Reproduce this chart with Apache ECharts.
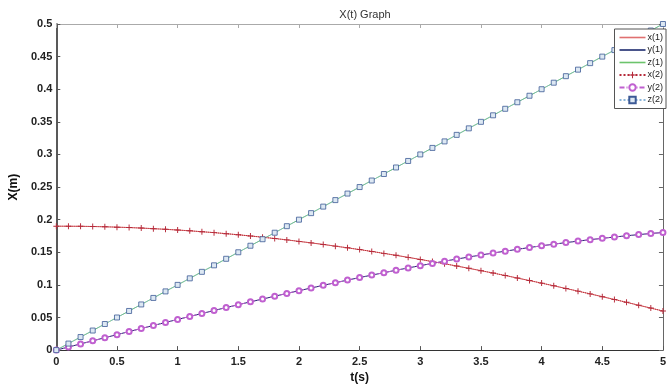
<!DOCTYPE html>
<html>
<head>
<meta charset="utf-8">
<script src="https://cdn.jsdelivr.net/npm/echarts@6/dist/echarts.min.js"></script>
<style>
  html, body { margin: 0; padding: 0; background: #fff; }
  #chart { width: 669px; height: 389px; }
</style>
</head>
<body>
<div id="chart"></div>
<script>
// 时间轴 t(s)，步长 0.1
const tValues = [0, 0.1, 0.2, 0.3, 0.4, 0.5, 0.6, 0.7, 0.8, 0.9, 1, 1.1, 1.2, 1.3, 1.4, 1.5, 1.6, 1.7, 1.8, 1.9,
  2, 2.1, 2.2, 2.3, 2.4, 2.5, 2.6, 2.7, 2.8, 2.9, 3, 3.1, 3.2, 3.3, 3.4, 3.5, 3.6, 3.7, 3.8, 3.9,
  4, 4.1, 4.2, 4.3, 4.4, 4.5, 4.6, 4.7, 4.8, 4.9, 5];

const xValues = [0.190, 0.1899, 0.1898, 0.1895, 0.1891, 0.1885, 0.1879, 0.1871, 0.1862, 0.1852,
  0.1841, 0.1829, 0.1815, 0.1801, 0.1785, 0.1768, 0.1750, 0.1731, 0.1711, 0.1690,
  0.1667, 0.1644, 0.1620, 0.1594, 0.1568, 0.1541, 0.1513, 0.1483, 0.1453, 0.1422,
  0.1390, 0.1357, 0.1324, 0.1289, 0.1254, 0.1218, 0.1181, 0.1144, 0.1105, 0.1066,
  0.1027, 0.0986, 0.0945, 0.0904, 0.0862, 0.0819, 0.0776, 0.0733, 0.0688, 0.0644, 0.0599];

const yValues = [0, 0.0047, 0.0095, 0.0142, 0.0190, 0.0237, 0.0284, 0.0331, 0.0377, 0.0424,
  0.0470, 0.0516, 0.0561, 0.0607, 0.0652, 0.0696, 0.0740, 0.0783, 0.0826, 0.0869,
  0.0911, 0.0952, 0.0993, 0.1033, 0.1073, 0.1112, 0.1150, 0.1187, 0.1224, 0.1260,
  0.1295, 0.1329, 0.1363, 0.1396, 0.1427, 0.1458, 0.1488, 0.1517, 0.1545, 0.1573,
  0.1599, 0.1624, 0.1648, 0.1671, 0.1693, 0.1714, 0.1734, 0.1753, 0.1771, 0.1788, 0.1803];

const zValues = [0, 0.01, 0.02, 0.03, 0.04, 0.05, 0.06, 0.07, 0.08, 0.09,
  0.10, 0.11, 0.12, 0.13, 0.14, 0.15, 0.16, 0.17, 0.18, 0.19,
  0.20, 0.21, 0.22, 0.23, 0.24, 0.25, 0.26, 0.27, 0.28, 0.29,
  0.30, 0.31, 0.32, 0.33, 0.34, 0.35, 0.36, 0.37, 0.38, 0.39,
  0.40, 0.41, 0.42, 0.43, 0.44, 0.45, 0.46, 0.47, 0.48, 0.49, 0.50];

const seriesNames = ['x(1)', 'y(1)', 'z(1)', 'x(2)', 'y(2)', 'z(2)'];

function pairs(values) {
  return tValues.map(function (t, i) { return [t, values[i]]; });
}

const plusSymbol = 'path://M-1,-0.16H1V0.16H-1Z M-0.16,-1H0.16V1H-0.16Z';
// 纯线条图例图标
const lineIcon = 'path://M0,0H26V1.6H0Z';

const chart = echarts.init(document.getElementById('chart'), null, { renderer: 'canvas' });

const tickFont = { color: '#222', fontSize: 11, fontWeight: 'bold', fontFamily: 'Liberation Sans' };

chart.setOption({
  animation: false,
  title: {
    text: 'X(t) Graph',
    left: 360,
    textAlign: 'center',
    top: 4,
    textStyle: { fontSize: 11, fontWeight: 'normal', color: '#333', fontFamily: 'Liberation Sans' }
  },
  legend: {
    data: seriesNames.map(function (n, i) {
      return i < 3 ? { name: n, icon: lineIcon } : { name: n };
    }),
    orient: 'vertical',
    right: 3,
    top: 29,
    padding: [4, 3, 4, 4],
    itemGap: 3.5,
    itemWidth: 26,
    itemHeight: 8,
    backgroundColor: '#fff',
    borderColor: '#555',
    borderWidth: 1,
    borderRadius: 0,
    textStyle: { fontSize: 9, color: '#222', fontFamily: 'Liberation Sans', padding: [0, 0, 0, -3] }
  },
  grid: { left: 53, right: 1, top: 24, bottom: 36 },
  xAxis: [{
    type: 'value',
    min: 0,
    max: 5,
    interval: 0.5,
    name: 't(s)',
    nameLocation: 'middle',
    nameGap: 19,
    nameTextStyle: { color: '#111', fontSize: 12, fontWeight: 'bold', fontFamily: 'Liberation Sans' },
    axisLine: { onZero: false, lineStyle: { color: '#333', width: 1 } },
    axisTick: { inside: true, length: 4, lineStyle: { color: '#555' } },
    axisLabel: Object.assign({ margin: 6 }, tickFont),
    splitLine: { show: false }
  }, {
    type: 'value',
    position: 'top',
    min: 0,
    max: 5,
    interval: 0.5,
    axisLine: { onZero: false, lineStyle: { color: '#aaa' } },
    axisTick: { inside: true, length: 4, lineStyle: { color: '#aaa' } },
    axisLabel: { show: false },
    splitLine: { show: false }
  }],
  yAxis: [{
    type: 'value',
    min: 0,
    max: 0.5,
    interval: 0.05,
    name: 'X(m)',
    nameLocation: 'middle',
    nameGap: 30,
    nameTextStyle: { color: '#111', fontSize: 12, fontWeight: 'bold', fontFamily: 'Liberation Sans' },
    axisLine: { onZero: false, lineStyle: { color: '#222', width: 1.5 } },
    axisTick: { inside: true, length: 4, lineStyle: { color: '#555' } },
    axisLabel: Object.assign({ margin: 4 }, tickFont),
    splitLine: { show: false }
  }, {
    type: 'value',
    position: 'right',
    min: 0,
    max: 0.5,
    interval: 0.05,
    axisLine: { onZero: false, lineStyle: { color: '#666' } },
    axisTick: { inside: true, length: 4, lineStyle: { color: '#666' } },
    axisLabel: { show: false },
    splitLine: { show: false }
  }],
  series: [{
    name: 'x(1)',
    type: 'line',
    data: pairs(xValues),
    symbol: 'none',
    lineStyle: { color: '#e07070', width: 1 },
    itemStyle: { color: '#e07070' }
  }, {
    name: 'y(1)',
    type: 'line',
    data: pairs(yValues),
    symbol: 'none',
    lineStyle: { color: '#1c2a6e', width: 1 },
    itemStyle: { color: '#1c2a6e' }
  }, {
    name: 'z(1)',
    type: 'line',
    data: pairs(zValues),
    symbol: 'none',
    lineStyle: { color: '#6cc46c', width: 1 },
    itemStyle: { color: '#6cc46c' }
  }, {
    name: 'x(2)',
    type: 'line',
    data: pairs(xValues),
    symbol: plusSymbol,
    symbolSize: 6,
    lineStyle: { color: '#b52a3a', width: 1, type: 'dotted' },
    itemStyle: { color: '#b52a3a' }
  }, {
    name: 'y(2)',
    type: 'line',
    data: pairs(yValues),
    symbol: 'emptyCircle',
    symbolSize: 5,
    lineStyle: { color: '#c060d0', width: 1, type: [5, 2, 1, 2] },
    itemStyle: { color: '#c060d0', borderWidth: 0.8 }
  }, {
    name: 'z(2)',
    type: 'line',
    data: pairs(zValues),
    symbol: 'rect',
    symbolSize: 5,
    lineStyle: { color: '#8ab4d8', width: 1, type: 'dotted' },
    itemStyle: { color: '#dde8f3', borderColor: '#3c5a96', borderWidth: 0.8 }
  }]
});
</script>
</body>
</html>
